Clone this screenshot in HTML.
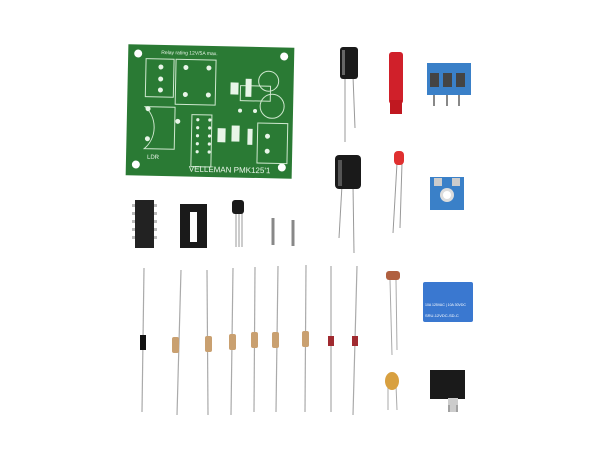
<!DOCTYPE html>
<html><head><style>html,body{margin:0;padding:0;background:#fff}</style></head><body>
<svg width="600" height="450" xmlns="http://www.w3.org/2000/svg" style="display:block">
<rect width="600" height="450" fill="#fff"/>
<!-- PCB -->
<g transform="rotate(1.2 210 112)">
<rect x="127" y="46" width="166" height="131" fill="#2a7a34"/>
<circle cx="137" cy="55" r="4" fill="#fff"/><circle cx="283" cy="55" r="4" fill="#fff"/>
<circle cx="137" cy="166" r="4" fill="#fff"/><circle cx="283" cy="166" r="4" fill="#fff"/>
<g stroke="#cfe8cf" fill="none" stroke-width="1">
<rect x="145" y="60" width="28" height="38"/><rect x="175" y="60" width="40" height="45"/>
<path d="M145 108 A28 28 0 0 1 145 150 L175 150 L175 108 Z"/>
<circle cx="268" cy="80" r="10"/><circle cx="272" cy="105" r="12"/>
<rect x="192" y="115" width="20" height="52"/><rect x="258" y="122" width="30" height="40"/>
<rect x="240" y="85" width="30" height="15"/>
</g>
<g fill="#e8f5e8">
<circle cx="160" cy="68" r="2.5"/><circle cx="160" cy="80" r="2.5"/><circle cx="160" cy="91" r="2.5"/>
<circle cx="185" cy="68" r="2.5"/><circle cx="208" cy="68" r="2.5"/><circle cx="185" cy="95" r="2.5"/><circle cx="208" cy="95" r="2.5"/>
<circle cx="148" cy="110" r="2.5"/><circle cx="178" cy="122" r="2.5"/><circle cx="148" cy="140" r="2.5"/>
<circle cx="198" cy="120" r="1.6"/><circle cx="198" cy="128" r="1.6"/><circle cx="198" cy="136" r="1.6"/><circle cx="198" cy="144" r="1.6"/><circle cx="198" cy="152" r="1.6"/>
<circle cx="210" cy="120" r="1.6"/><circle cx="210" cy="128" r="1.6"/><circle cx="210" cy="136" r="1.6"/><circle cx="210" cy="144" r="1.6"/><circle cx="210" cy="152" r="1.6"/>
<circle cx="268" cy="135" r="2.5"/><circle cx="268" cy="150" r="2.5"/>
<circle cx="240" cy="110" r="2"/><circle cx="255" cy="110" r="2"/>
<rect x="218" y="128" width="8" height="14"/><rect x="232" y="125" width="8" height="16"/><rect x="248" y="128" width="5" height="16"/>
<rect x="230" y="82" width="8" height="12"/><rect x="245" y="78" width="6" height="18"/>
</g>
<text x="190" y="172" font-family="Liberation Sans,sans-serif" font-size="8" fill="#e8f5e8">VELLEMAN PMK125'1</text>
<text x="160" y="55" font-family="Liberation Sans,sans-serif" font-size="5" fill="#e8f5e8">Relay rating 12V/5A max.</text>
<text x="148" y="160" font-family="Liberation Sans,sans-serif" font-size="6" fill="#e8f5e8">LDR</text>
</g>
<!-- small electrolytic -->
<line x1="345" y1="76" x2="345" y2="142" stroke="#999"/><line x1="353" y1="76" x2="355" y2="128" stroke="#999"/>
<rect x="340" y="47" width="18" height="32" rx="3" fill="#1a1a1a"/><rect x="342" y="50" width="3" height="25" fill="#666"/>
<!-- red part -->
<rect x="389" y="52" width="14" height="52" rx="3" fill="#d0202a"/><rect x="390" y="100" width="12" height="14" fill="#c01820"/>
<!-- terminal block -->
<line x1="434" y1="92" x2="434" y2="106" stroke="#888" stroke-width="2"/><line x1="447" y1="92" x2="447" y2="106" stroke="#888" stroke-width="2"/><line x1="459" y1="92" x2="459" y2="106" stroke="#888" stroke-width="2"/>
<rect x="427" y="63" width="44" height="32" fill="#3a80c8"/>
<rect x="430" y="73" width="9" height="14" fill="#444"/><rect x="443" y="73" width="9" height="14" fill="#444"/><rect x="456" y="73" width="9" height="14" fill="#444"/>
<!-- large cap -->
<line x1="342" y1="185" x2="339" y2="238" stroke="#999"/><line x1="353" y1="185" x2="354" y2="253" stroke="#999"/>
<rect x="335" y="155" width="26" height="34" rx="4" fill="#1a1a1a"/><rect x="338" y="160" width="4" height="26" fill="#555"/>
<!-- LED -->
<line x1="397" y1="163" x2="393" y2="233" stroke="#999"/><line x1="402" y1="163" x2="400" y2="228" stroke="#999"/>
<rect x="394" y="151" width="10" height="14" rx="4" fill="#e03030"/>
<!-- trimmer -->
<rect x="430" y="177" width="34" height="33" fill="#3a80c8"/>
<rect x="434" y="178" width="8" height="8" fill="#ccc"/><rect x="452" y="178" width="8" height="8" fill="#ccc"/>
<circle cx="447" cy="195" r="7" fill="#ddd"/><circle cx="447" cy="195" r="4" fill="#fff"/>
<!-- IC -->
<g fill="#bbb"><rect x="132" y="204" width="4" height="3"/><rect x="132" y="212" width="4" height="3"/><rect x="132" y="220" width="4" height="3"/><rect x="132" y="228" width="4" height="3"/><rect x="132" y="236" width="4" height="3"/><rect x="153" y="204" width="4" height="3"/><rect x="153" y="212" width="4" height="3"/><rect x="153" y="220" width="4" height="3"/><rect x="153" y="228" width="4" height="3"/><rect x="153" y="236" width="4" height="3"/></g>
<rect x="135" y="200" width="19" height="48" fill="#222"/>
<!-- socket -->
<rect x="180" y="204" width="27" height="44" fill="#1a1a1a"/><rect x="190" y="212" width="7" height="30" fill="#fff"/>
<!-- transistor -->
<line x1="236" y1="212" x2="236" y2="247" stroke="#999"/><line x1="239" y1="212" x2="239" y2="247" stroke="#999"/><line x1="242" y1="212" x2="242" y2="247" stroke="#999"/>
<rect x="232" y="200" width="12" height="14" rx="3" fill="#1a1a1a"/>
<!-- pins -->
<line x1="273" y1="218" x2="273" y2="245" stroke="#888" stroke-width="3"/><line x1="293" y1="220" x2="293" y2="246" stroke="#888" stroke-width="3"/>
<!-- resistors/diodes -->
<g stroke="#aaa" stroke-width="1.2">
<line x1="144" y1="268" x2="142" y2="412"/><line x1="181" y1="270" x2="177" y2="415"/>
<line x1="207" y1="270" x2="208" y2="415"/><line x1="233" y1="268" x2="231" y2="415"/>
<line x1="255" y1="267" x2="254" y2="412"/><line x1="278" y1="266" x2="276" y2="412"/>
<line x1="306" y1="265" x2="305" y2="412"/><line x1="331" y1="266" x2="331" y2="412"/>
<line x1="357" y1="266" x2="353" y2="415"/>
</g>
<rect x="140" y="335" width="6" height="15" fill="#111"/>
<g fill="#c9a070">
<rect x="172" y="337" width="7" height="16" rx="2"/><rect x="205" y="336" width="7" height="16" rx="2"/>
<rect x="229" y="334" width="7" height="16" rx="2"/><rect x="251" y="332" width="7" height="16" rx="2"/>
<rect x="272" y="332" width="7" height="16" rx="2"/><rect x="302" y="331" width="7" height="16" rx="2"/>
</g>
<rect x="328" y="336" width="6" height="10" fill="#a02a30"/><rect x="352" y="336" width="6" height="10" fill="#a02a30"/>
<!-- LDR -->
<line x1="390" y1="280" x2="392" y2="355" stroke="#aaa"/><line x1="396" y1="280" x2="397" y2="350" stroke="#aaa"/>
<rect x="386" y="271" width="14" height="9" rx="3" fill="#b06040"/>
<!-- relay -->
<rect x="423" y="282" width="50" height="40" rx="2" fill="#3a78d0"/>
<text x="425" y="306" font-family="Liberation Sans,sans-serif" font-size="3.5" fill="#fff">10A 125VAC | 10A 30VDC</text>
<text x="425" y="317" font-family="Liberation Sans,sans-serif" font-size="4" fill="#fff">SRU-12VDC-SD-C</text>
<!-- ceramic cap -->
<line x1="388" y1="385" x2="388" y2="410" stroke="#aaa"/><line x1="396" y1="385" x2="397" y2="410" stroke="#aaa"/>
<ellipse cx="392" cy="381" rx="7" ry="9" fill="#d8a040"/>
<!-- DC jack -->
<rect x="430" y="370" width="35" height="29" fill="#1a1a1a"/><rect x="448" y="398" width="10" height="14" fill="#ccc"/>
<line x1="449" y1="405" x2="449" y2="412" stroke="#777"/><line x1="457" y1="405" x2="457" y2="412" stroke="#777"/>
</svg>
</body></html>
